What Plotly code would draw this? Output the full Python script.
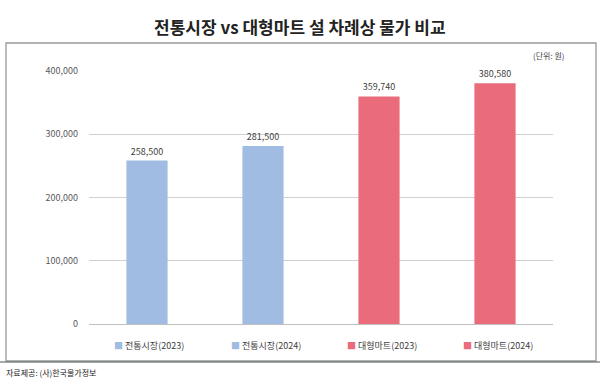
import plotly.graph_objects as go

categories = ["전통시장(2023)", "전통시장(2024)", "대형마트(2023)", "대형마트(2024)"]
values = [258500, 281500, 359740, 380580]
colors = ["#A0BCE3", "#A0BCE3", "#EA6C7A", "#EA6C7A"]
value_labels = ["258,500", "281,500", "359,740", "380,580"]
y_ticks = [0, 100000, 200000, 300000, 400000]
y_tick_labels = ["0", "100,000", "200,000", "300,000", "400,000"]

W, H = 600, 380
L, R, T, B = 89, 47, 71, 56
pw, ph = W - L - R, H - T - B

def px_x(x):
    return (x - L) / pw

def px_y(y):
    return (H - B - y) / ph

fig = go.Figure()
for cat, val, col, lab in zip(categories, values, colors, value_labels):
    fig.add_trace(go.Bar(
        x=[cat], y=[val], name=cat, marker=dict(color=col, line=dict(width=0)),
        width=0.355, text=[lab], textposition="outside",
        textfont=dict(size=9, color="#404040", family="Noto Sans CJK KR"),
        cliponaxis=False, showlegend=False,
    ))

legend_x = [112, 229, 345, 461]
annotations = []
for cat, col, lx in zip(categories, colors, legend_x):
    annotations.append(dict(
        text=f'<span style="color:{col}">■</span> {cat}', xref="paper", yref="paper",
        x=px_x(lx), y=px_y(345), xanchor="left", yanchor="middle", showarrow=False,
        font=dict(size=9, color="#404040")))

annotations += [
    dict(text="(단위: 원)", xref="paper", yref="paper", x=px_x(567), y=px_y(56),
         xanchor="right", yanchor="middle", showarrow=False,
         font=dict(size=8, color="#404040")),
    dict(text="자료제공: (사)한국물가정보", xref="paper", yref="paper", x=px_x(4), y=px_y(372),
         xanchor="left", yanchor="middle", showarrow=False,
         font=dict(size=8, color="#222222")),
    dict(text="<b>전통시장 vs 대형마트 설 차례상 물가 비교</b>", xref="paper", yref="paper",
         x=px_x(300), y=px_y(27), xanchor="center", yanchor="middle", showarrow=False,
         font=dict(size=17, color="#222222")),
]

fig.update_layout(
    width=W, height=H,
    margin=dict(l=L, r=R, t=T, b=B, autoexpand=False),
    paper_bgcolor="#FFFFFF", plot_bgcolor="#FFFFFF",
    barmode="overlay",
    font=dict(family="Noto Sans CJK KR", color="#404040"),
    xaxis=dict(showticklabels=False, showgrid=False, zeroline=False,
               showline=True, linecolor="#BFBFBF", linewidth=1, ticks=""),
    yaxis=dict(range=[0, 400000], tickvals=y_ticks, ticktext=y_tick_labels,
               showgrid=True, gridcolor="#D0D0D0", gridwidth=1, zeroline=False,
               tickfont=dict(size=9, color="#595959"), ticks="", ticklabelstandoff=10),
    showlegend=False,
    shapes=[
        dict(type="rect", xref="paper", yref="paper",
             x0=px_x(6), x1=px_x(596), y0=px_y(361), y1=px_y(43),
             line=dict(color="#999999", width=1.3), fillcolor="rgba(0,0,0,0)"),
        dict(type="line", xref="paper", yref="paper",
             x0=px_x(0), x1=px_x(600), y0=px_y(362), y1=px_y(362),
             line=dict(color="#4A5A5A", width=1.2)),
    ],
    annotations=annotations,
)

fig.write_html("out.html", config={"displayModeBar": False},
               post_script="document.body.style.margin='0';document.body.style.overflow='hidden';")
